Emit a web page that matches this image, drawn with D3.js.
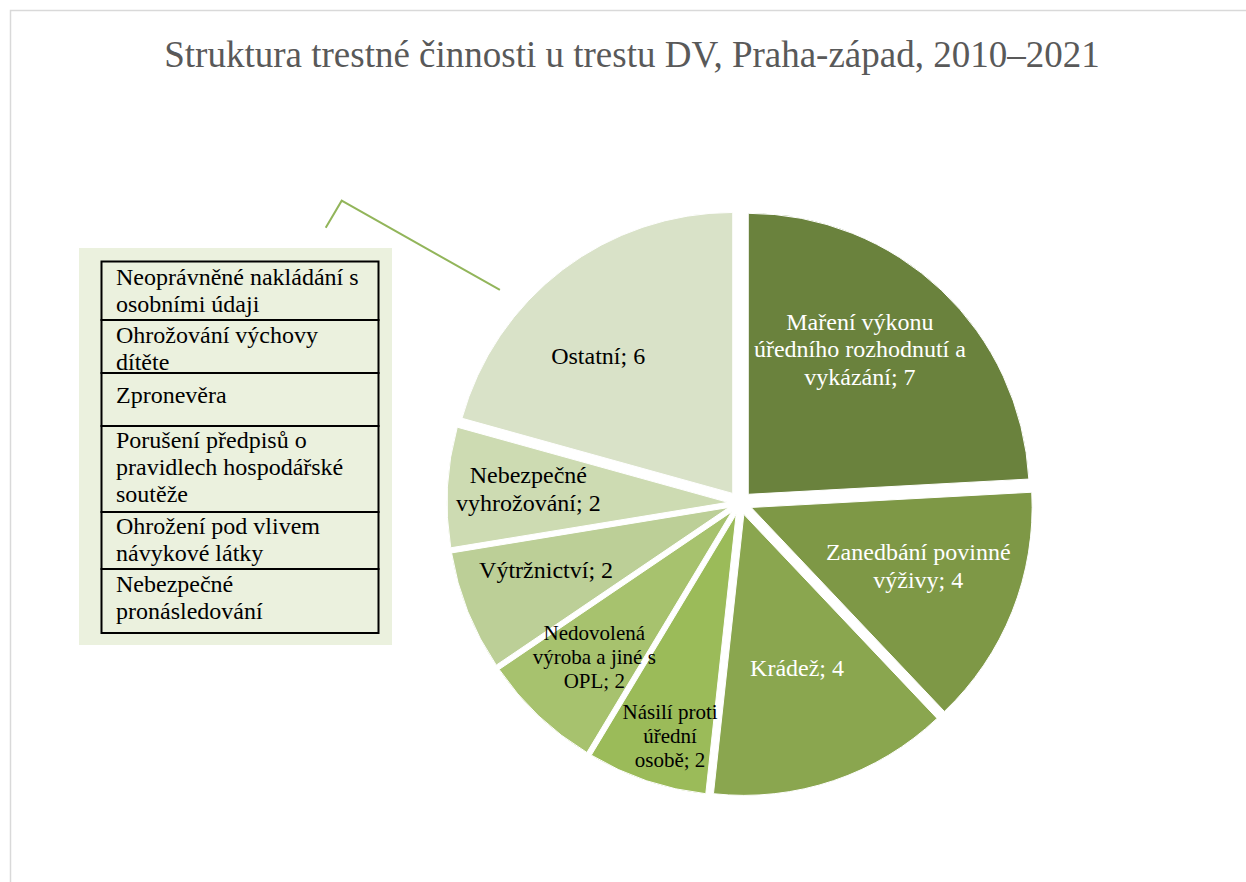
<!DOCTYPE html>
<html>
<head>
<meta charset="utf-8">
<script src="https://cdn.jsdelivr.net/npm/d3@7"></script>
<style>
  body { margin: 0; background: #fff; }
  svg { display: block; font-family: 'Liberation Serif', 'Times New Roman', serif; }
</style>
</head>
<body>
<div id="chart_parent"></div>
<script>
// data
const categories = [
    'Maření výkonu úředního rozhodnutí a vykázání',
    'Zanedbání povinné výživy',
    'Krádež',
    'Násilí proti úřední osobě',
    'Nedovolená výroba a jiné s OPL',
    'Výtržnictví',
    'Nebezpečné vyhrožování',
    'Ostatní',
];
const counts = [7, 4, 4, 2, 2, 2, 2, 6];
const labelLines = [
    ['Maření výkonu', 'úředního rozhodnutí a', 'vykázání; 7'],
    ['Zanedbání povinné', 'výživy; 4'],
    ['Krádež; 4'],
    ['Násilí proti', 'úřední', 'osobě; 2'],
    ['Nedovolená', 'výroba a jiné s', 'OPL; 2'],
    ['Výtržnictví; 2'],
    ['Nebezpečné', 'vyhrožování; 2'],
    ['Ostatní; 6'],
];
const otherItems = [
    ['Neoprávněné nakládání s', 'osobními údaji'],
    ['Ohrožování výchovy', 'dítěte'],
    ['Zpronevěra'],
    ['Porušení předpisů o', 'pravidlech hospodářské', 'soutěže'],
    ['Ohrožení pod vlivem', 'návykové látky'],
    ['Nebezpečné', 'pronásledování'],
];
const titleText = 'Struktura trestné činnosti u trestu DV, Praha-západ, 2010–2021';

const chartConfig = {
    outerWidth: 1246,
    outerHeight: 882,
    center: [740, 503],
    radius: 281,
    explode: 12,
    colors: ['#6a823d', '#7e9846', '#8aa64f', '#9bbb59', '#a7c26e', '#bccf97', '#cddbb2', '#d9e2c8'],
    labelColors: ['#fff', '#fff', '#fff', '#000', '#000', '#000', '#000', '#000'],
    // label placement: radius (fraction of r) and angle nudge in degrees
    labelRadius: [0.694, 0.673, 0.623, 0.865, 0.754, 0.73, 0.755, 0.726],
    labelNudge: [-5.5, -2.2, -0.4, -1.9, 0, 2.7, 0.7, -6.8],
    labelSize: [24, 24, 24, 21, 21, 24, 24, 24],
    legend: {
        x: 79, y: 248, w: 313, h: 397,
        tx: 101.5, ty: 261.5, tw: 277,
        rows: [58.5, 53, 53, 86, 57, 64],
        textTop: [23.5, 22.7, 30, 22.3, 22.3, 22.7],
    },
};

function drawChart(rootSelector, config) {
    const svg = d3.select(rootSelector).append('svg')
        .attr('width', config.outerWidth)
        .attr('height', config.outerHeight);

    // chart area border
    svg.append('rect')
        .attr('x', 10.5).attr('y', 10.5)
        .attr('width', 1260).attr('height', 900)
        .attr('fill', 'none')
        .attr('stroke', '#d9d9d9')
        .attr('stroke-width', 1.5);

    svg.append('text')
        .attr('x', 632).attr('y', 67)
        .attr('text-anchor', 'middle')
        .attr('fill', '#595959')
        .style('font-size', '37px')
        .text(titleText);

    const pie = d3.pie().sort(null).value(d => d);
    const arcs = pie(counts);
    const arc = d3.arc().innerRadius(0).outerRadius(config.radius);

    const pieG = svg.append('g')
        .attr('transform', `translate(${config.center[0]},${config.center[1]})`);

    pieG.selectAll('path.slice')
        .data(arcs)
        .join('path')
        .attr('class', 'slice')
        .attr('transform', d => {
            const [ox, oy] = d3.pointRadial((d.startAngle + d.endAngle) / 2, config.explode);
            return `translate(${ox},${oy})`;
        })
        .attr('d', arc)
        .attr('fill', (d, i) => config.colors[i])
        .attr('stroke', '#fff')
        .attr('stroke-width', 1);

    // leader line from Ostatní to the callout table
    const ost = arcs[7];
    const tip = d3.pointRadial(ost.startAngle + (ost.endAngle - ost.startAngle) * 0.35, config.radius + 40);
    const leader = [
        [tip[0], tip[1]],
        [341.7 - config.center[0], 200.7 - config.center[1]],
        [325.7 - config.center[0], 227.7 - config.center[1]],
    ];
    pieG.append('path')
        .attr('d', d3.line()(leader))
        .attr('fill', 'none')
        .attr('stroke', '#92b55a')
        .attr('stroke-width', 2);

    // data labels
    pieG.selectAll('text.label')
        .data(arcs)
        .join('text')
        .attr('class', 'label')
        .attr('text-anchor', 'middle')
        .attr('fill', (d, i) => config.labelColors[i])
        .style('font-size', (d, i) => `${config.labelSize[i]}px`)
        .each(function (d, i) {
            const mid = (d.startAngle + d.endAngle) / 2 + config.labelNudge[i] * Math.PI / 180;
            const [lx, ly] = d3.pointRadial(mid, config.radius * config.labelRadius[i]);
            const lines = labelLines[i];
            const lh = config.labelSize[i] * 1.14;
            d3.select(this).selectAll('tspan')
                .data(lines)
                .join('tspan')
                .attr('x', lx)
                .attr('y', (t, j) => ly + (j - (lines.length - 1) / 2) * lh + config.labelSize[i] * 0.33)
                .text(t => t);
        });

    // callout table listing what is inside "Ostatní"
    const lg = config.legend;
    svg.append('rect')
        .attr('x', lg.x).attr('y', lg.y)
        .attr('width', lg.w).attr('height', lg.h)
        .attr('fill', '#ebf1de');

    let rowTop = lg.ty;
    otherItems.forEach((lines, i) => {
        const h = lg.rows[i];
        const top = rowTop;
        svg.append('rect')
            .attr('x', lg.tx).attr('y', top)
            .attr('width', lg.tw).attr('height', h)
            .attr('fill', 'none')
            .attr('stroke', '#000')
            .attr('stroke-width', 2);
        svg.append('text')
            .attr('fill', '#000')
            .style('font-size', '24px')
            .selectAll('tspan')
            .data(lines)
            .join('tspan')
            .attr('x', lg.tx + 14.5)
            .attr('y', (t, j) => top + lg.textTop[i] + j * 27)
            .text(t => t);
        rowTop += h;
    });
}

drawChart('#chart_parent', chartConfig);
</script>
</body>
</html>
